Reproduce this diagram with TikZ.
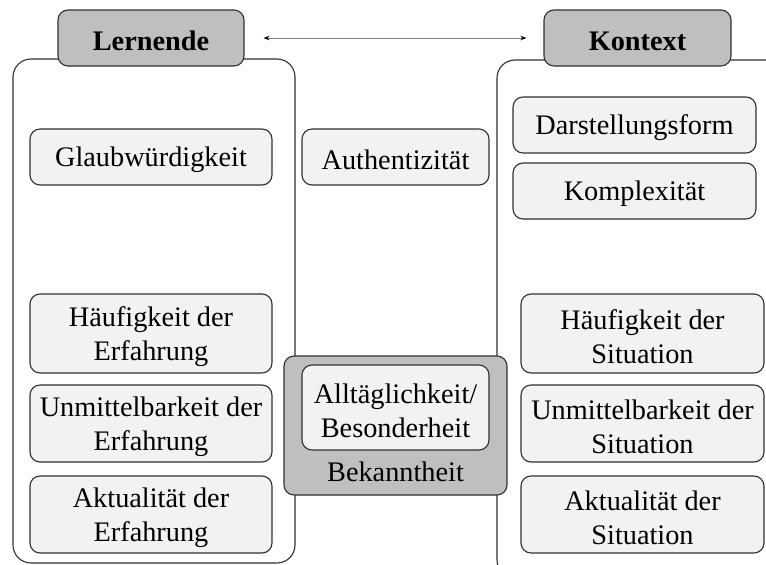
\documentclass[tikz,border=0pt]{standalone}
\usepackage{fontspec}
\setmainfont{Liberation Serif}
\usetikzlibrary{arrows.meta}
\definecolor{boxfill}{HTML}{F2F2F2}
\definecolor{headfill}{HTML}{BFBFBF}
\definecolor{edge}{HTML}{303030}
\tikzset{
  base/.style={draw=edge, line width=1.1pt, rounded corners=10pt, inner sep=0pt},
  itembox/.style={base, fill=boxfill},
  txt/.style={align=center, inner sep=0pt, yshift=-3pt, font=\fontsize{28.3}{34}\selectfont},
  boldtxt/.style={txt, font=\fontsize{28.3}{34}\selectfont\bfseries},
  headbox/.style={base, fill=headfill},
  container/.style={draw=edge, line width=1.1pt, rounded corners=18pt},
}
\begin{document}
\begin{tikzpicture}[x=1pt,y=-1pt]
\useasboundingbox (0,0) rectangle (766,565);
\clip (0,0) rectangle (766,565);
% containers
\draw[container] (13,59) rectangle (295,563);
\draw[container] (497,60) rectangle (800,578);
% headers
\node[headbox, minimum width=186pt, minimum height=56pt, label={[boldtxt]center:Lernende}] (lern) at (151,38) {};
\node[headbox, minimum width=187pt, minimum height=56pt, label={[boldtxt]center:Kontext}] (kontext) at (637.5,38) {};
\draw[draw=gray, line width=1pt, {Stealth[length=6pt,width=4.5pt,color=black]}-{Stealth[length=6pt,width=4.5pt,color=black]},
  shorten <=19pt, shorten >=17pt] (lern) -- (kontext);
% left items
\node[itembox, minimum width=242pt, minimum height=56pt, label={[txt]center:Glaubwürdigkeit}] (glaub) at (151,157) {};
\node[itembox, minimum width=242pt, minimum height=79pt, label={[txt]center:{Häufigkeit der\\Erfahrung}}] (haeufE) at (151,333.5) {};
\node[itembox, minimum width=242pt, minimum height=77pt, label={[txt]center:{Unmittelbarkeit der\\Erfahrung}}] (unmE) at (151,423.5) {};
\node[itembox, minimum width=242pt, minimum height=77pt, label={[txt]center:{Aktualität der\\Erfahrung}}] (aktE) at (151,514.5) {};
% middle
\node[itembox, minimum width=187pt, minimum height=56pt, label={[txt]center:Authentizität}] (auth) at (395.5,157) {};
\node[base, fill=headfill, minimum width=223pt, minimum height=139pt] (bek) at (395.5,425.5) {};
\node[itembox, minimum width=187pt, minimum height=85pt, label={[txt]center:{Alltäglichkeit/\\Besonderheit}}] (allt) at (395.5,407.5) {};
\node[txt] (bektext) at (395.5,469) {Bekanntheit};
% right items
\node[itembox, minimum width=243pt, minimum height=56pt, label={[txt]center:Darstellungsform}] (darst) at (634.5,125) {};
\node[itembox, minimum width=243pt, minimum height=56pt, label={[txt]center:Komplexität}] (komp) at (634.5,191) {};
\node[itembox, minimum width=243pt, minimum height=79pt, label={[txt]center:{Häufigkeit der\\Situation}}] (haeufS) at (642.5,333.5) {};
\node[itembox, minimum width=243pt, minimum height=77pt, label={[txt]center:{Unmittelbarkeit der\\Situation}}] (unmS) at (642.5,423.5) {};
\node[itembox, minimum width=243pt, minimum height=77pt, label={[txt]center:{Aktualität der\\Situation}}] (aktS) at (642.5,514.5) {};
\end{tikzpicture}
\end{document}
